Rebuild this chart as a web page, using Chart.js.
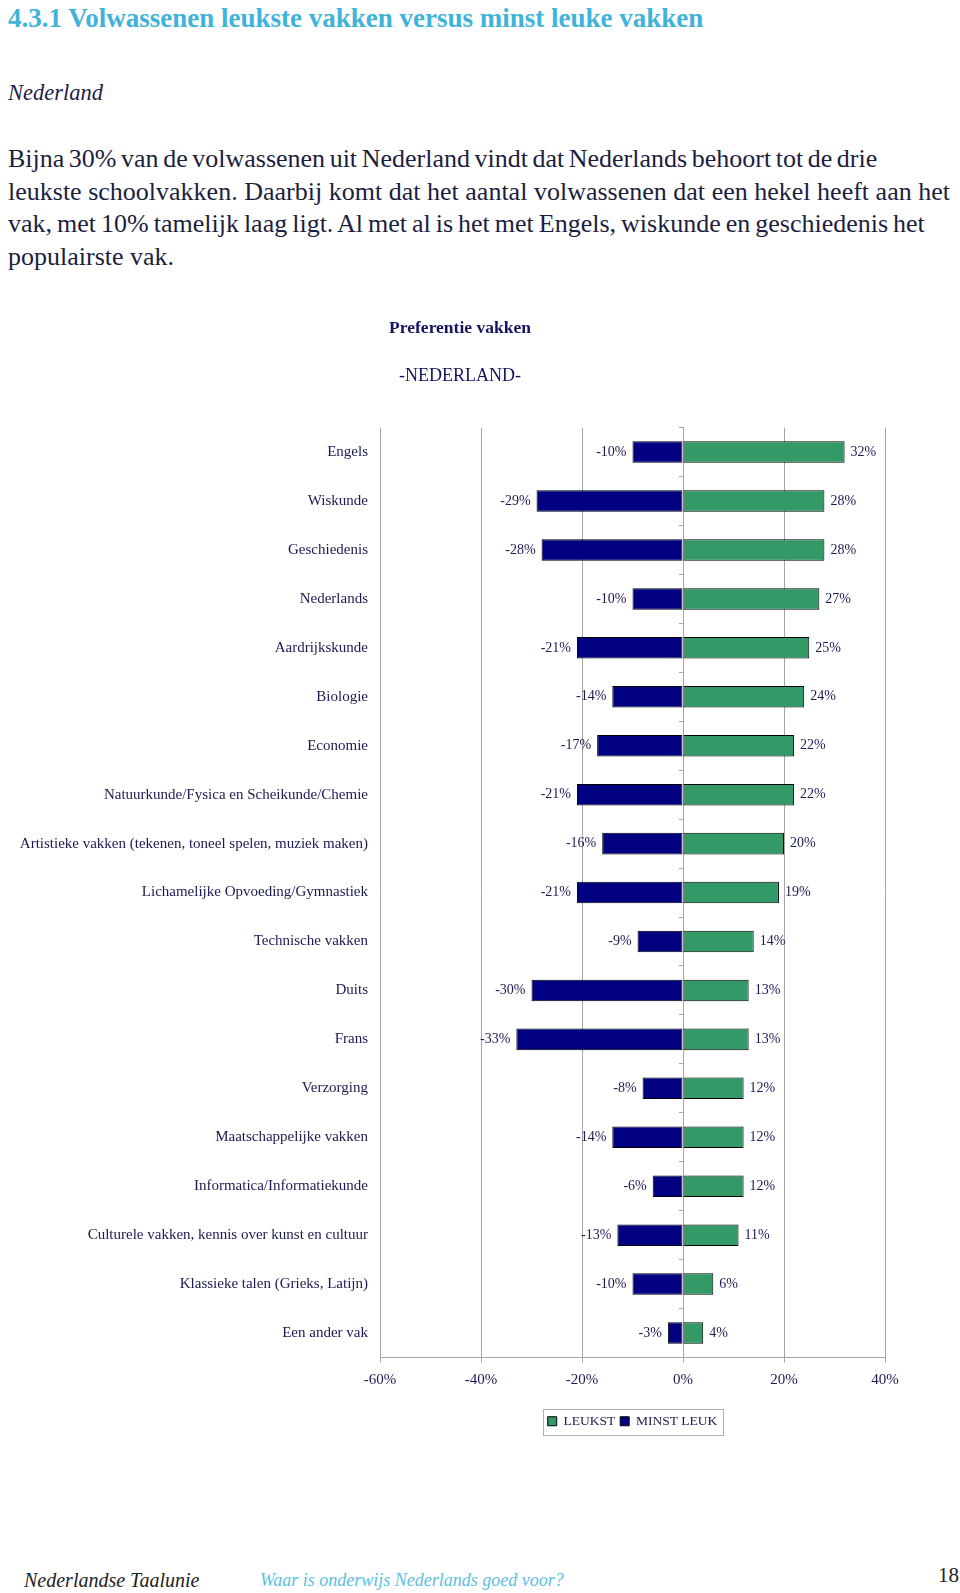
<!DOCTYPE html>
<html>
<head>
<meta charset="utf-8">
<script src="https://cdn.jsdelivr.net/npm/chart.js@4.4.1/dist/chart.umd.min.js"></script>
<style>
  body { margin: 0; background: #fff; width: 960px; height: 1593px; position: relative; overflow: hidden; font-family: "Liberation Serif", serif; }
  .t { position: absolute; white-space: nowrap; }
  #kop { left: 8px; top: 3px; line-height: 30px; font-size: 27px; font-weight: bold; color: #3fb3d9; }
  #land { left: 8px; top: 78px; line-height: 30px; font-size: 22.5px; font-style: italic; color: #1c1c4a; }
  #tekst { left: 8px; top: 143px; line-height: 32.5px; font-size: 26px; color: #1c1e40; }
  #tekst div { white-space: nowrap; }
  #chartWrap { position: absolute; left: 0; top: 290px; width: 920px; height: 1170px; }
  #voet1 { left: 24px; top: 1567px; font-size: 20px; line-height: 26px; font-style: italic; color: #222; }
  #voet2 { left: 260px; top: 1567px; font-size: 18px; line-height: 26px; font-style: italic; color: #5bbfe0; }
  #pagina { left: 938px; top: 1562px; font-size: 21px; line-height: 26px; color: #222; }
</style>
</head>
<body>
<div class="t" id="kop">4.3.1 Volwassenen leukste vakken versus minst leuke vakken</div>
<div class="t" id="land">Nederland</div>
<div class="t" id="tekst">
  <div data-w="916">Bijna 30% van de volwassenen uit Nederland vindt dat Nederlands behoort tot de drie</div>
  <div data-w="942">leukste schoolvakken. Daarbij komt dat het aantal volwassenen dat een hekel heeft aan het</div>
  <div data-w="918">vak, met 10% tamelijk laag ligt. Al met al is het met Engels, wiskunde en geschiedenis het</div>
  <div>populairste vak.</div>
</div>
<div id="chartWrap"><canvas id="grafiek" width="920" height="1170"></canvas></div>
<div class="t" id="voet1">Nederlandse Taalunie</div>
<div class="t" id="voet2">Waar is onderwijs Nederlands goed voor?</div>
<div class="t" id="pagina">18</div>

<script>
const vakken = [
  'Engels', 'Wiskunde', 'Geschiedenis', 'Nederlands', 'Aardrijkskunde', 'Biologie', 'Economie',
  'Natuurkunde/Fysica en Scheikunde/Chemie',
  'Artistieke vakken (tekenen, toneel spelen, muziek maken)',
  'Lichamelijke Opvoeding/Gymnastiek', 'Technische vakken', 'Duits', 'Frans', 'Verzorging',
  'Maatschappelijke vakken', 'Informatica/Informatiekunde',
  'Culturele vakken, kennis over kunst en cultuur', 'Klassieke talen (Grieks, Latijn)', 'Een ander vak'
];
const leukst = [32, 28, 28, 27, 25, 24, 22, 22, 20, 19, 14, 13, 13, 12, 12, 12, 11, 6, 4];
const minstLeuk = [-10, -29, -28, -10, -21, -14, -17, -21, -16, -21, -9, -30, -33, -8, -14, -6, -13, -10, -3];

const tekstKleur = '#1c1a52';
const lijnKleur = '#a6a6a6';
const lettertype = 'Liberation Serif';

// regels van de alinea uitvullen zoals in het origineel
document.querySelectorAll('#tekst div[data-w]').forEach(el => {
  const doel = +el.dataset.w;
  const spaties = (el.textContent.match(/ /g) || []).length;
  const breedte = el.getBoundingClientRect().width;
  if (spaties) el.style.wordSpacing = ((doel - breedte) / spaties) + 'px';
});

// waarden naast de balken
const balkLabels = {
  id: 'balkLabels',
  afterDatasetsDraw(chart) {
    const ctx = chart.ctx;
    ctx.save();
    ctx.font = '14px "' + lettertype + '"';
    ctx.fillStyle = tekstKleur;
    ctx.textBaseline = 'middle';
    chart.data.datasets.forEach((ds, i) => {
      chart.getDatasetMeta(i).data.forEach((bar, j) => {
        const v = ds.data[j];
        ctx.textAlign = v < 0 ? 'right' : 'left';
        ctx.fillText(v + '%', bar.x + (v < 0 ? -6 : 6), bar.y);
      });
    });
    ctx.restore();
  }
};

// kader om de legenda
const legendaKader = {
  id: 'legendaKader',
  afterDraw(chart) {
    const boxes = chart.legend.legendHitBoxes;
    if (!boxes || !boxes.length) return;
    const l = Math.min(...boxes.map(b => b.left)) - 5;
    const r = Math.max(...boxes.map(b => b.left + b.width)) + 5;
    const t = Math.min(...boxes.map(b => b.top)) - 6;
    const btm = Math.max(...boxes.map(b => b.top + b.height)) + 6;
    const ctx = chart.ctx;
    ctx.save();
    ctx.strokeStyle = '#b0b0b0';
    ctx.lineWidth = 1;
    ctx.strokeRect(Math.round(l) + 0.5, Math.round(t) + 0.5, Math.round(r - l), Math.round(btm - t));
    ctx.restore();
  }
};

new Chart(document.getElementById('grafiek'), {
  type: 'bar',
  data: {
    labels: vakken,
    datasets: [
      { label: 'LEUKST', data: leukst, backgroundColor: '#339966', borderColor: '#000', borderWidth: 1,
        borderSkipped: false, barPercentage: 0.44, categoryPercentage: 1 },
      { label: 'MINST LEUK', data: minstLeuk, backgroundColor: '#000080', borderColor: '#000', borderWidth: 1,
        borderSkipped: false, barPercentage: 0.44, categoryPercentage: 1 }
    ]
  },
  options: {
    responsive: false,
    animation: false,
    indexAxis: 'y',
    layout: { padding: { left: 0, right: 0, top: 0, bottom: 22 } },
    scales: {
      x: {
        stacked: true, min: -60, max: 40,
        ticks: { stepSize: 20, callback: v => v + '%', color: tekstKleur, padding: 9,
                 font: { family: lettertype, size: 15 } },
        grid: { color: lijnKleur, tickLength: 5 },
        border: { color: lijnKleur },
        afterFit: s => { s.height += 11; s.paddingRight = 35; }
      },
      y: {
        stacked: true,
        ticks: { color: tekstKleur, padding: 12, font: { family: lettertype, size: 15 } },
        grid: { display: false, drawTicks: false },
        border: { display: false },
        afterFit: s => { s.width = 380; }
      },
      y2: {
        type: 'category',
        position: { x: 0 },
        ticks: { display: false },
        grid: { drawOnChartArea: false, tickLength: 4, offset: true, color: lijnKleur },
        border: { color: lijnKleur }
      }
    },
    plugins: {
      title: {
        display: true, text: 'Preferentie vakken', color: '#141460',
        font: { family: lettertype, size: 17.5, weight: 'bold' },
        padding: { top: 28, bottom: 0 }
      },
      subtitle: {
        display: true, text: '-NEDERLAND-', color: '#141460',
        font: { family: lettertype, size: 18 },
        padding: { top: 26, bottom: 41 }
      },
      legend: {
        position: 'bottom', fullSize: false,
        labels: { boxWidth: 9, boxHeight: 9, padding: 5, color: tekstKleur,
                  font: { family: lettertype, size: 13.5 } }
      },
      tooltip: { enabled: false }
    }
  },
  plugins: [balkLabels, legendaKader]
});
</script>
</body>
</html>
